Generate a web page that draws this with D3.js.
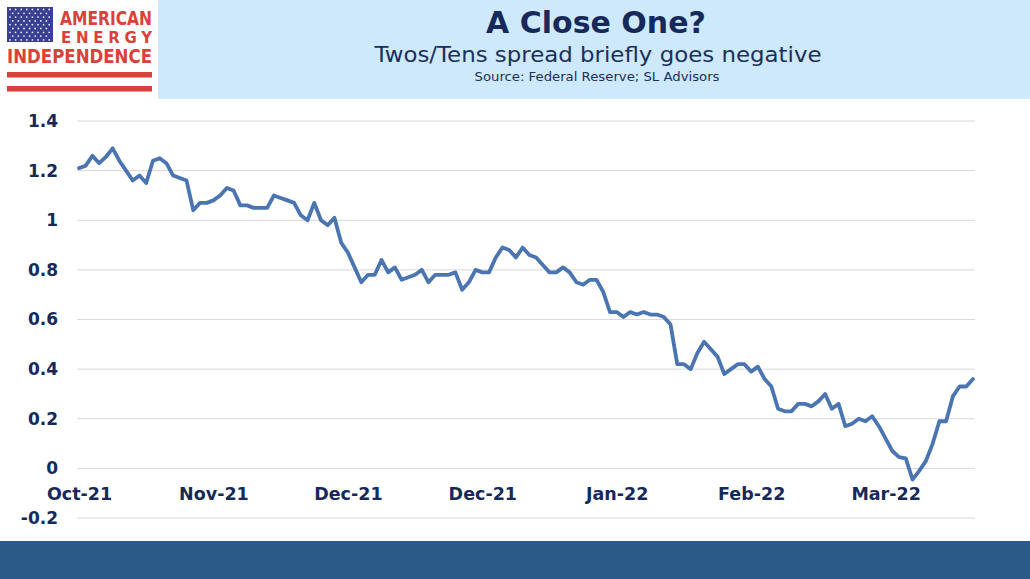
<!DOCTYPE html>
<html>
<head>
<meta charset="utf-8">
<script src="https://cdn.jsdelivr.net/npm/d3@7"></script>
<style>
  html, body { margin: 0; padding: 0; background: #ffffff; }
  svg { display: block; }
</style>
</head>
<body>
<svg id="chart" width="1030" height="579"></svg>
<script>
// ---------- DATA ----------
const spreadValues = [
  1.21, 1.22, 1.26, 1.23, 1.255, 1.29, 1.24, 1.20, 1.16, 1.18,
  1.15, 1.24, 1.25, 1.23, 1.18, 1.17, 1.16, 1.04, 1.07, 1.07,
  1.08, 1.10, 1.13, 1.12, 1.06, 1.06, 1.05, 1.05, 1.05, 1.10,
  1.09, 1.08, 1.07, 1.02, 1.00, 1.07, 1.00, 0.98, 1.01, 0.91,
  0.87, 0.81, 0.75, 0.78, 0.78, 0.84, 0.79, 0.81, 0.76, 0.77,
  0.78, 0.80, 0.75, 0.78, 0.78, 0.78, 0.79, 0.72, 0.75, 0.80,
  0.79, 0.79, 0.85, 0.89, 0.88, 0.85, 0.89, 0.86, 0.85, 0.82,
  0.79, 0.79, 0.81, 0.79, 0.75, 0.74, 0.76, 0.76, 0.71, 0.63,
  0.63, 0.61, 0.63, 0.62, 0.63, 0.62, 0.62, 0.61, 0.58, 0.42,
  0.42, 0.40, 0.465, 0.51, 0.48, 0.45, 0.38, 0.40, 0.42, 0.42,
  0.39, 0.41, 0.36, 0.33, 0.24, 0.23, 0.23, 0.26, 0.26, 0.25,
  0.27, 0.30, 0.24, 0.26, 0.17, 0.18, 0.20, 0.19, 0.21, 0.17,
  0.12, 0.07, 0.045, 0.04, -0.045, -0.01, 0.03, 0.10, 0.19, 0.19,
  0.29, 0.33, 0.33, 0.36
];
const xTickIndex  = [0, 20, 40, 60, 80, 100, 120];
const xTickLabels = ["Oct-21", "Nov-21", "Dec-21", "Dec-21", "Jan-22", "Feb-22", "Mar-22"];
const yTicks      = [-0.2, 0, 0.2, 0.4, 0.6, 0.8, 1, 1.2, 1.4];
const yTickLabels = ["-0.2", "0", "0.2", "0.4", "0.6", "0.8", "1", "1.2", "1.4"];
const titleText    = "A Close One?";
const subtitleText = "Twos/Tens spread briefly goes negative";
const sourceText   = "Source: Federal Reserve; SL Advisors";

// ---------- SETUP ----------
const svg = d3.select("#chart");
const W = 1030, H = 579;
const FONT = "'DejaVu Sans', Verdana, sans-serif";
const NAVY = "#16295a";
const RED = "#d9413b";

svg.append("rect").attr("width", W).attr("height", H).attr("fill", "#ffffff");

// Header panel
svg.append("rect").attr("x", 158).attr("y", 0).attr("width", W - 158).attr("height", 99)
  .attr("fill", "#cde9fb");

svg.append("text").attr("x", 596).attr("y", 33).attr("text-anchor", "middle")
  .attr("font-family", FONT).attr("font-weight", "bold").attr("font-size", 30)
  .attr("fill", NAVY).text(titleText);
svg.append("text").attr("x", 598).attr("y", 62).attr("text-anchor", "middle")
  .attr("font-family", FONT).attr("font-size", 22).attr("fill", "#1b2f5e")
  .attr("textLength", 447).attr("lengthAdjust", "spacingAndGlyphs")
  .text(subtitleText);
svg.append("text").attr("x", 597).attr("y", 81).attr("text-anchor", "middle")
  .attr("font-family", FONT).attr("font-size", 13).attr("fill", "#1b2f5e")
  .attr("textLength", 245).attr("lengthAdjust", "spacingAndGlyphs")
  .text(sourceText);

// Logo
const logo = svg.append("g");
logo.append("rect").attr("x", 7).attr("y", 7).attr("width", 46).attr("height", 35).attr("fill", "#3b3f92");
for (let r = 0; r < 9; r++) {
  const cols = r % 2 === 0 ? 8 : 7;
  for (let c = 0; c < cols; c++) {
    logo.append("circle")
      .attr("cx", 10 + c * 5.6 + (r % 2 === 0 ? 0 : 2.8))
      .attr("cy", 9.5 + r * 3.8)
      .attr("r", 0.9).attr("fill", "#e8ecff");
  }
}
logo.append("text").attr("x", 60).attr("y", 24.5).attr("font-family", FONT).attr("font-weight", "bold")
  .attr("font-size", 19).attr("fill", RED).attr("textLength", 92).attr("lengthAdjust", "spacingAndGlyphs")
  .text("AMERICAN");
logo.append("text").attr("x", 61).attr("y", 42.5).attr("font-family", FONT).attr("font-weight", "bold")
  .attr("font-size", 15).attr("fill", RED).attr("textLength", 91).attr("lengthAdjust", "spacing")
  .text("ENERGY");
logo.append("text").attr("x", 7).attr("y", 63).attr("font-family", FONT).attr("font-weight", "bold")
  .attr("font-size", 19).attr("fill", RED).attr("textLength", 145).attr("lengthAdjust", "spacingAndGlyphs")
  .text("INDEPENDENCE");
logo.append("rect").attr("x", 7).attr("y", 72).attr("width", 145).attr("height", 5.5).attr("fill", RED);
logo.append("rect").attr("x", 7).attr("y", 86).attr("width", 145).attr("height", 5.5).attr("fill", RED);

// Bottom band
svg.append("rect").attr("x", 0).attr("y", 541).attr("width", W).attr("height", H - 541)
  .attr("fill", "#2c5a88");

// ---------- SCALES ----------
const x = d3.scaleLinear().domain([0, spreadValues.length - 1]).range([79, 973]);
const y = d3.scaleLinear().domain([-0.2, 1.4]).range([518, 121]);

// Gridlines
svg.append("g").selectAll("line").data(yTicks).join("line")
  .attr("x1", 77).attr("x2", 975)
  .attr("y1", d => y(d)).attr("y2", d => y(d))
  .attr("stroke", "#d9d9d9").attr("stroke-width", 1);

// Y axis labels
const yAxis = d3.axisLeft(y).tickValues(yTicks).tickSize(0).tickPadding(0)
  .tickFormat((d, i) => yTickLabels[i]);
const gy = svg.append("g").attr("transform", "translate(58,0)").call(yAxis);
gy.select(".domain").remove();
gy.selectAll("text").attr("font-family", FONT).attr("font-weight", "bold")
  .attr("font-size", 17).attr("fill", NAVY);

// X axis labels
const xAxis = d3.axisBottom(x).tickValues(xTickIndex).tickSize(0).tickPadding(0)
  .tickFormat((d, i) => xTickLabels[i]);
const gx = svg.append("g").attr("transform", "translate(0,488)").call(xAxis);
gx.select(".domain").remove();
gx.selectAll("text").attr("font-family", FONT).attr("font-weight", "bold")
  .attr("font-size", 17.5).attr("fill", NAVY);

// Line
const line = d3.line().x((d, i) => x(i)).y(d => y(d));
svg.append("path").datum(spreadValues).attr("d", line)
  .attr("fill", "none").attr("stroke", "#4a75b1").attr("stroke-width", 3.8)
  .attr("stroke-linejoin", "round").attr("stroke-linecap", "round");
</script>
</body>
</html>
